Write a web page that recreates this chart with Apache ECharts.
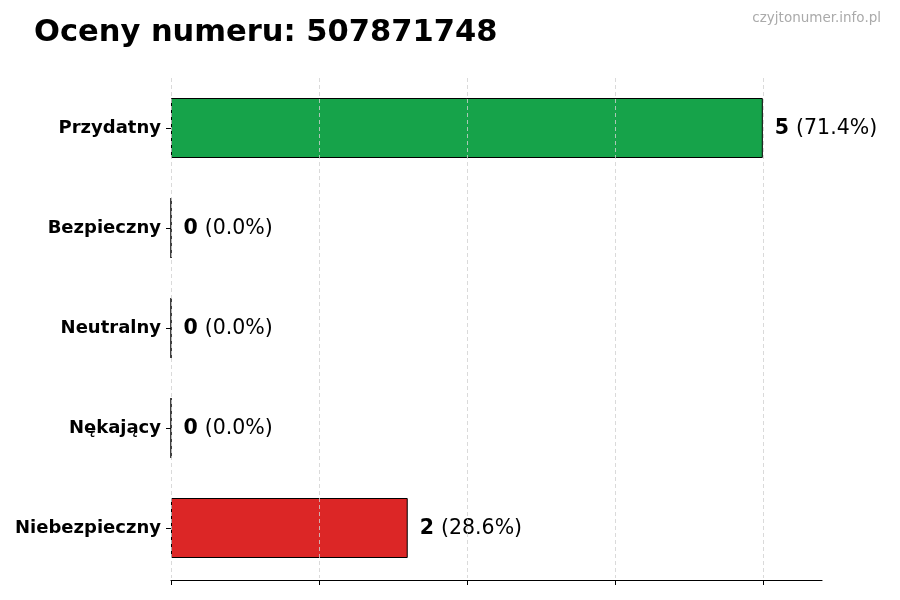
<!DOCTYPE html>
<html>
<head>
<meta charset="utf-8">
<script src="https://cdn.jsdelivr.net/npm/echarts@6/dist/echarts.min.js"></script>
<style>
  html, body { margin: 0; padding: 0; background: #fff; }
  #chart { width: 900px; height: 600px; }
</style>
</head>
<body>
<div id="chart"></div>
<script>
// dane z obrazka
var categories = ['Przydatny', 'Bezpieczny', 'Neutralny', 'Nękający', 'Niebezpieczny'];
var counts = [5, 0, 0, 0, 2];
var colors = ['#16a34a', '#9ca3af', '#6b7280', '#f97316', '#dc2626'];
var xTicks = [0, 1.25, 2.5, 3.75, 5];

var total = 0;
for (var i = 0; i < counts.length; i++) { total += counts[i]; }

var barData = [];
for (var i = 0; i < counts.length; i++) {
    barData.push({
        value: counts[i],
        itemStyle: { color: colors[i] }
    });
}

var font = 'DejaVu Sans';
var chart = echarts.init(document.getElementById('chart'));
chart.setOption({
    animation: false,
    backgroundColor: '#fff',
    title: [{
        text: 'Oceny numeru: 507871748',
        left: 29, top: 13,
        textStyle: { fontFamily: font, fontSize: 30.5, fontWeight: 'bold', color: '#000' }
    }, {
        text: 'czyjtonumer.info.pl',
        right: 14, top: 6,
        textStyle: { fontFamily: font, fontSize: 13.5, fontWeight: 'normal', color: '#aaaaaa' }
    }],
    grid: { left: 171, right: 78, top: 78, bottom: 22 },
    xAxis: {
        type: 'value',
        min: 0, max: 5.5, interval: 1.25,
        offset: 2,
        axisLine: { show: true, lineStyle: { color: '#000', width: 1.2 } },
        axisTick: { show: true, length: 5, customValues: xTicks, lineStyle: { color: '#000' } },
        axisLabel: { show: false },
        splitLine: { show: true, lineStyle: { color: '#d0d0d0', type: [4, 3], width: 0.8 } },
        z: 10
    },
    yAxis: {
        type: 'category',
        inverse: true,
        data: categories,
        axisLine: { show: false },
        axisTick: { show: true, length: 5, alignWithLabel: true, lineStyle: { color: '#000' } },
        axisLabel: { fontFamily: font, fontSize: 18, fontWeight: 'bold', color: '#000', margin: 10, padding: [2, 0, 0, 0] }
    },
    series: [{
        type: 'bar',
        data: barData,
        barWidth: 60,
        itemStyle: { borderColor: '#000', borderWidth: 1 },
        label: {
            show: true,
            position: 'right',
            distance: 12,
            offset: [0, 1],
            formatter: function (p) {
                var pct = total ? (p.value / total * 100).toFixed(1) : '0.0';
                return '{b|' + p.value + '}{s| }{n|(' + pct + '%)}';
            },
            rich: {
                b: { fontFamily: font, fontSize: 20.5, fontWeight: 'bold', color: '#000' },
                s: { fontFamily: font, fontSize: 20.5, color: '#000', width: 7 },
                n: { fontFamily: font, fontSize: 20.5, color: '#000' }
            }
        }
    }]
});
</script>
</body>
</html>
